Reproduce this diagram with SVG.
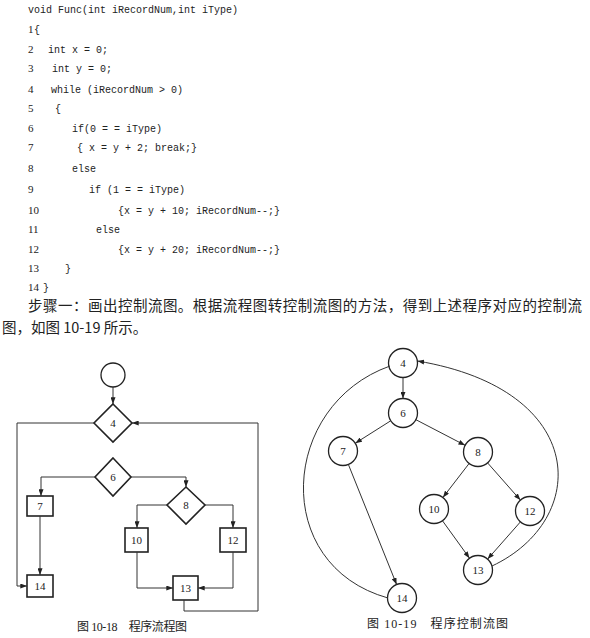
<svg xmlns="http://www.w3.org/2000/svg" width="590" height="638" viewBox="0 0 590 638">
<style>
.code{font-family:"Liberation Mono","DejaVu Sans Mono",monospace;font-size:10px;fill:#222;}
.num{font-family:"Liberation Serif","Times New Roman",serif;font-size:11px;fill:#222;}
.para{font-family:"Noto Sans CJK SC",sans-serif;font-size:14.5px;fill:#222;}
.cap{font-family:"Liberation Serif","Noto Sans CJK SC",serif;font-size:12px;fill:#222;}
.lbl{font-family:"Liberation Serif","Times New Roman",serif;font-size:11px;fill:#222;text-anchor:middle;dominant-baseline:central;}
.shape{fill:#fff;stroke:#222;stroke-width:1.6;}
.node{fill:#fff;stroke:#222;stroke-width:1.3;}
.edge{fill:none;stroke:#333;stroke-width:1;}
</style>
<defs>
<marker id="arr" viewBox="0 0 8 6" refX="8" refY="3" markerWidth="7" markerHeight="5" markerUnits="userSpaceOnUse" orient="auto">
<path d="M0,0 L8,3 L0,6 Z" fill="#222"/>
</marker>
</defs>
<rect width="590" height="638" fill="#fff"/>

<g id="code">
<text class="code" x="28" y="13">void Func(int iRecordNum,int iType)</text>
<text class="num" x="28" y="33">1</text><text class="code" x="34" y="33">{</text>
<text class="num" x="28" y="53">2</text><text class="code" x="48" y="53">int x = 0;</text>
<text class="num" x="28" y="72">3</text><text class="code" x="52" y="72">int y = 0;</text>
<text class="num" x="28" y="93">4</text><text class="code" x="51" y="93">while (iRecordNum &gt; 0)</text>
<text class="num" x="28" y="112">5</text><text class="code" x="55" y="112">{</text>
<text class="num" x="28" y="132">6</text><text class="code" x="72" y="132">if(0 =  = iType)</text>
<text class="num" x="28" y="151">7</text><text class="code" x="77" y="151">{ x = y + 2; break;}</text>
<text class="num" x="28" y="172">8</text><text class="code" x="72" y="172">else</text>
<text class="num" x="28" y="193">9</text><text class="code" x="89" y="193">if (1 =  = iType)</text>
<text class="num" x="28" y="214">10</text><text class="code" x="118" y="214">{x = y + 10; iRecordNum--;}</text>
<text class="num" x="28" y="233">11</text><text class="code" x="96" y="233">else</text>
<text class="num" x="28" y="253">12</text><text class="code" x="118" y="253">{x = y + 20; iRecordNum--;}</text>
<text class="num" x="28" y="272">13</text><text class="code" x="65" y="272">}</text>
<text class="num" x="28" y="291">14</text><text class="code" x="43" y="291">}</text>
</g>

<g id="paragraph">
<text class="para" x="28" y="311" textLength="554" lengthAdjust="spacing">步骤一：画出控制流图。根据流程图转控制流图的方法，得到上述程序对应的控制流</text>
<text class="para" x="2" y="333">图，如图 10-19 所示。</text>
</g>

<g id="fig18">
<g id="f-start"><circle class="node" cx="113" cy="375" r="12"/></g>
<g id="f-4"><polygon class="shape" points="113,404 132,423 113,442 94,423"/><text class="lbl" x="113" y="423">4</text></g>
<g id="f-6"><polygon class="shape" points="113,458 131,477 113,496 95,477"/><text class="lbl" x="113" y="477">6</text></g>
<g id="f-8"><polygon class="shape" points="186,487 205,505 186,524 167,505"/><text class="lbl" x="186" y="505">8</text></g>
<g id="f-7"><rect class="shape" x="27" y="496" width="26" height="20"/><text class="lbl" x="40" y="506">7</text></g>
<g id="f-14"><rect class="shape" x="27" y="575" width="26" height="22"/><text class="lbl" x="40" y="586">14</text></g>
<g id="f-10"><rect class="shape" x="125" y="528" width="23" height="24"/><text class="lbl" x="136.5" y="540">10</text></g>
<g id="f-12"><rect class="shape" x="220" y="528" width="26" height="24"/><text class="lbl" x="233" y="540">12</text></g>
<g id="f-13"><rect class="shape" x="173" y="576" width="25" height="24"/><text class="lbl" x="185.5" y="588">13</text></g>
<g id="f-connectors">
<path class="edge" d="M113,387 V404" marker-end="url(#arr)"/>
<path class="edge" d="M94,423 H17 V586 H27" marker-end="url(#arr)"/>
<path class="edge" d="M95,477 H41 V496" marker-end="url(#arr)"/>
<path class="edge" d="M131,477 H186 V487" marker-end="url(#arr)"/>
<path class="edge" d="M40,516 V575" marker-end="url(#arr)"/>
<path class="edge" d="M167,505 H137 V528" marker-end="url(#arr)"/>
<path class="edge" d="M205,505 H233 V528" marker-end="url(#arr)"/>
<path class="edge" d="M137,552 V588 H173" marker-end="url(#arr)"/>
<path class="edge" d="M233,552 V588 H198" marker-end="url(#arr)"/>
<path class="edge" d="M184,600 V611 H258 V423 H132" marker-end="url(#arr)"/>
</g>
<text class="cap" x="77" y="631" textLength="110" lengthAdjust="spacing">图 10-18　程序流程图</text>
</g>

<g id="fig19">
<g id="n4"><circle class="node" cx="403" cy="363" r="14.5"/><text class="lbl" x="403" y="363">4</text></g>
<g id="n6"><circle class="node" cx="403" cy="413" r="14.5"/><text class="lbl" x="403" y="413">6</text></g>
<g id="n7"><circle class="node" cx="343" cy="451" r="14.5"/><text class="lbl" x="343" y="451">7</text></g>
<g id="n8"><circle class="node" cx="478" cy="452" r="14.5"/><text class="lbl" x="478" y="452">8</text></g>
<g id="n10"><circle class="node" cx="434" cy="509" r="14.5"/><text class="lbl" x="434" y="509">10</text></g>
<g id="n12"><circle class="node" cx="530" cy="511" r="14.5"/><text class="lbl" x="530" y="511">12</text></g>
<g id="n13"><circle class="node" cx="478" cy="570" r="14.5"/><text class="lbl" x="478" y="570">13</text></g>
<g id="n14"><circle class="node" cx="402" cy="598" r="14.5"/><text class="lbl" x="402" y="598">14</text></g>
<g id="g-connectors">
<path class="edge" d="M403,377.5 V398.5" marker-end="url(#arr)"/>
<path class="edge" d="M390.7,420.8 L355.3,443.2" marker-end="url(#arr)"/>
<path class="edge" d="M415.9,419.7 L465.1,445.3" marker-end="url(#arr)"/>
<path class="edge" d="M469.1,463.5 L442.9,497.5" marker-end="url(#arr)"/>
<path class="edge" d="M487.6,462.9 L520.4,500.1" marker-end="url(#arr)"/>
<path class="edge" d="M348.4,464.5 L396.6,584.5" marker-end="url(#arr)"/>
<path class="edge" d="M442.5,520.8 L469.5,558.2" marker-end="url(#arr)"/>
<path class="edge" d="M520.4,521.9 L487.6,559.1" marker-end="url(#arr)"/>
<path class="edge" d="M390,366 C280,405 270,565 388,598"/>
<path class="edge" d="M492,566 C590,520 590,390 417.5,361" marker-end="url(#arr)"/>
</g>
<text class="cap" x="367" y="628" textLength="141" lengthAdjust="spacing">图 10-19　程序控制流图</text>
</g>
</svg>
